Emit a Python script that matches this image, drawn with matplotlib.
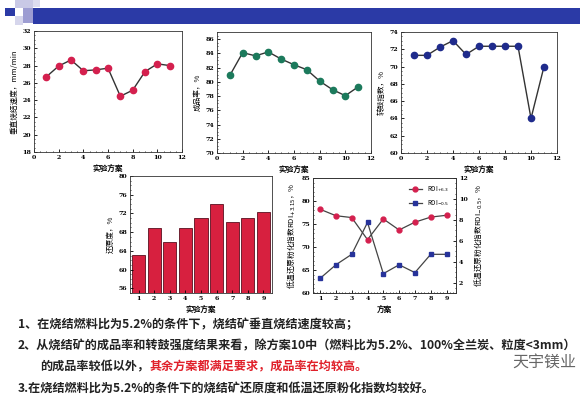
import numpy as np
import matplotlib.pyplot as plt
from matplotlib.patches import Rectangle

plt.rcParams['font.family'] = ['Noto Sans CJK SC', 'DejaVu Sans']

# data
scheme11 = [1, 2, 3, 4, 5, 6, 7, 8, 9, 10, 11]
speed = [26.7, 27.95, 28.65, 27.4, 27.5, 27.7, 24.45, 25.15, 27.3, 28.2, 28.0]
yield_rate = [80.9, 84.1, 83.65, 84.2, 83.2, 82.4, 81.7, 80.1, 78.9, 78.05, 79.3]
drum_index = [71.3, 71.3, 72.25, 73.0, 71.4, 72.35, 72.35, 72.35, 72.35, 64.0, 70.0]

scheme9 = [1, 2, 3, 4, 5, 6, 7, 8, 9]
reducibility = [63.1, 68.8, 66.0, 68.8, 71.1, 74.0, 70.2, 71.1, 72.3]
rdi_plus = [78.2, 76.8, 76.4, 71.6, 76.1, 73.7, 75.4, 76.5, 76.9]
rdi_minus = [2.4, 3.7, 4.7, 7.75, 2.85, 3.7, 2.95, 4.7, 4.7]

W, H = 580, 398
fig = plt.figure(figsize=(W / 100, H / 100), dpi=100)
fig.patch.set_facecolor('white')


def box(x0, y0, x1, y1):
    return [x0 / W, 1 - y1 / H, (x1 - x0) / W, (y1 - y0) / H]


def rect(x0, y0, x1, y1, color):
    fig.add_artist(Rectangle((x0 / W, 1 - y1 / H), (x1 - x0) / W, (y1 - y0) / H,
                             transform=fig.transFigure, color=color, lw=0))


# header decoration
rect(15, 0, 33, 8, '#c9c9e6')
rect(33, 0, 40, 7, '#dcdcef')
rect(15, 16, 23, 25, '#d6d6ec')
rect(23, 8, 33, 23, '#9d9dd2')
rect(5, 8, 15, 16, '#2b3aa6')
rect(33, 8, 580, 24, '#2b3aa6')

tick_font = dict(family='DejaVu Serif', size=4.5, weight='bold')
lab_size = 5.5


def style(ax):
    ax.tick_params(direction='in', length=2, width=0.6, pad=2)
    ax.tick_params(which='minor', direction='in', length=1, width=0.5)
    ax.minorticks_on()
    for t in ax.get_xticklabels() + ax.get_yticklabels():
        t.set_fontproperties(tick_font)
    for s in ax.spines.values():
        s.set_linewidth(0.6)
        s.set_color('#333333')


def line_panel(rectpx, y, ylim, yticks, ylabel, color):
    ax = fig.add_axes(box(*rectpx))
    ax.plot(scheme11, y, '-', color='#333333', lw=1.0, zorder=2)
    ax.plot(scheme11, y, 'o', color=color, ms=4.5, mec=color, zorder=3)
    ax.set_xlim(0, 12)
    ax.set_xticks(range(0, 13, 2))
    ax.set_ylim(*ylim)
    ax.set_yticks(yticks)
    ax.set_ylabel(ylabel, fontsize=lab_size, labelpad=3)
    ax.set_xlabel('实验方案', fontsize=lab_size, fontweight='bold', labelpad=3)
    style(ax)
    return ax


line_panel((34, 31, 182, 152), speed, (18, 32), range(18, 33, 2),
           '垂直烧结速度，mm/min', '#d4204e')
line_panel((217, 32, 371, 153), yield_rate, (70, 87), range(70, 87, 2),
           '成品率，%', '#1c7a5c')
line_panel((401, 32, 557, 153), drum_index, (60, 74), range(60, 75, 2),
           '转鼓指数，%', '#1f2b8c')

# bar chart
axb = fig.add_axes(box(130, 176, 272, 293))
axb.bar(scheme9, reducibility, width=0.85, color='#d7203f', edgecolor='#5a1020',
        lw=0.6)
axb.set_xlim(0.45, 9.55)
axb.set_ylim(55, 80)
axb.set_xticks(scheme9)
axb.set_yticks(range(56, 81, 4))
axb.set_ylabel('还原度，%', fontsize=lab_size, labelpad=3)
axb.set_xlabel('实验方案', fontsize=lab_size, fontweight='bold', labelpad=3)
style(axb)
axb.xaxis.set_minor_locator(plt.NullLocator())

# RDI chart
axr = fig.add_axes(box(313, 178, 456, 293))
l1, = axr.plot(scheme9, rdi_plus, '-o', color='#444444', mfc='#d4204e', mec='#d4204e',
               ms=3.5, lw=0.9)
axr.set_xlim(0.55, 9.6)
axr.set_ylim(60, 85)
axr.set_xticks(scheme9)
axr.set_yticks(range(60, 86, 5))
axr.set_ylabel('低温还原粉化指数RDI$_{+3.15}$，%', fontsize=lab_size, labelpad=3)
axr.set_xlabel('方案', fontsize=lab_size, fontweight='bold', labelpad=3)
style(axr)
axr.xaxis.set_minor_locator(plt.NullLocator())
ax2 = axr.twinx()
l2, = ax2.plot(scheme9, rdi_minus, '-s', color='#444444', mfc='#27339a', mec='#27339a',
               ms=3.2, lw=0.9)
ax2.set_ylim(1, 12)
ax2.set_yticks(range(2, 13, 2))
ax2.set_ylabel('低温还原粉化指数RDI$_{-0.5}$，%', fontsize=lab_size, labelpad=3)
style(ax2)
axr.legend([l1, l2], ['RDI$_{+6.3}$', 'RDI$_{-0.5}$'], loc='upper right',
           fontsize=4.5, frameon=False, handlelength=2.2, borderaxespad=0.6,
           labelspacing=0.6)

# conclusions
line2 = '2、从烧结矿的成品率和转鼓强度结果来看，除方案10中（燃料比为5.2%、100%全兰炭、粒度<3mm）'
fs = 9.0
renderer = fig.canvas.get_renderer()
probe = fig.text(0, 0, line2, fontsize=fs, weight='bold')
w = probe.get_window_extent(renderer).width
probe.remove()
fs = fs * (557 / w)

kw = dict(fontsize=fs, va='center', weight='bold', color='#222222')
fig.text(18 / W, 1 - 325 / H, '1、在烧结燃料比为5.2%的条件下，烧结矿垂直烧结速度较高；', **kw)
fig.text(18 / W, 1 - 346 / H, line2, **kw)
t3 = fig.text(40 / W, 1 - 367 / H, '的成品率较低以外，', **kw)
x3 = 40 + t3.get_window_extent(renderer).width
kw_red = dict(kw, color='#e0202a')
fig.text(x3 / W, 1 - 367 / H, '其余方案都满足要求，成品率在均较高。', **kw_red)
fig.text(18 / W, 1 - 388 / H, '3.在烧结燃料比为5.2%的条件下的烧结矿还原度和低温还原粉化指数均较好。', **kw)

# watermark
fig.text(512 / W, 1 - 362 / H, '天宇镁业', fontsize=11.5, va='center', color='#666666')

fig.savefig('out.png', dpi=100)
